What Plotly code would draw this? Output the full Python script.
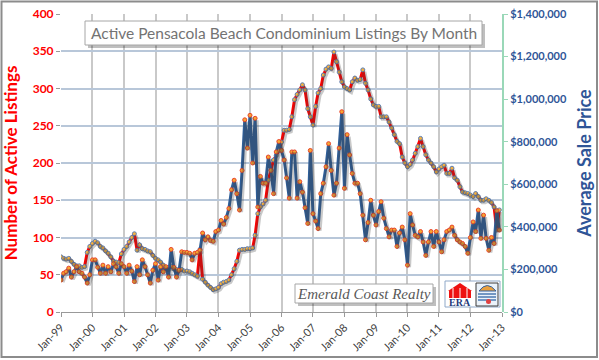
import plotly.graph_objects as go
import pandas as pd

# ---------------- data ----------------
months = pd.date_range("1999-01-01", periods=168, freq="MS")

listings = [
    74, 72, 71, 72, 68, 64, 62, 62, 60, 61, 80, 88,          # 1999
    92, 95, 93, 88, 86, 82, 79, 74, 68, 67, 66, 78,          # 2000
    84, 88, 94, 100, 105, 83, 90, 85, 84, 82, 81, 76,        # 2001
    72, 70, 67, 63, 59, 60, 61, 58, 57, 56, 57, 55,          # 2002
    55, 54, 52, 50, 48, 84, 44, 40, 36, 33, 30, 31,          # 2003
    33, 38, 40, 41, 43, 50, 58, 68, 83, 84, 84, 85,          # 2004
    85, 86, 103, 132, 141, 145, 150, 177, 190, 204, 210, 217,  # 2005
    228, 244, 244, 245, 262, 285, 292, 298, 305, 298, 273, 262,  # 2006
    251, 276, 294, 300, 318, 326, 329, 327, 349, 336, 322, 309,  # 2007
    302, 300, 298, 309, 314, 311, 312, 325, 307, 298, 286, 278,  # 2008
    276, 276, 262, 262, 262, 255, 247, 238, 229, 226, 208, 200,  # 2009
    195, 198, 204, 213, 222, 233, 222, 211, 204, 200, 195, 188,  # 2010
    192, 195, 197, 186, 186, 193, 180, 177, 168, 161, 160, 159,  # 2011
    157, 155, 159, 155, 150, 150, 152, 150, 147, 141, 110, 137,  # 2012
]

avg_price = [
    150000, 182000, 189000, 206000, 164000, 189000, 213000, 189000, 182000, 164000, 136000, 175000,
    245000, 245000, 210000, 182000, 220000, 182000, 213000, 189000, 227000, 213000, 182000, 227000,
    213000, 182000, 220000, 192000, 143000, 213000, 175000, 245000, 213000, 175000, 136000, 196000,
    227000, 150000, 213000, 189000, 213000, 164000, 294000, 210000, 164000, 196000, 283000, 280000,
    280000, 276000, 245000, 276000, 280000, 290000, 371000, 339000, 353000, 336000, 332000, 378000,
    385000, 430000, 413000, 444000, 486000, 574000, 619000, 556000, 479000, 665000, 903000, 770000,
    924000, 700000, 910000, 493000, 637000, 605000, 605000, 728000, 665000, 556000, 752000, 801000,
    759000, 714000, 630000, 535000, 752000, 752000, 535000, 612000, 563000, 490000, 416000, 759000,
    462000, 427000, 392000, 556000, 605000, 682000, 791000, 665000, 549000, 605000, 770000, 941000,
    581000, 833000, 738000, 651000, 605000, 605000, 556000, 455000, 339000, 420000, 525000, 455000,
    409000, 472000, 518000, 441000, 392000, 353000, 385000, 385000, 308000, 371000, 399000, 339000,
    220000, 462000, 409000, 360000, 353000, 378000, 329000, 266000, 329000, 378000, 308000, 378000,
    329000, 283000, 339000, 378000, 385000, 399000, 360000, 339000, 329000, 322000, 308000, 276000,
    350000, 423000, 378000, 479000, 346000, 455000, 346000, 290000, 350000, 322000, 476000, 385000,
]

year_ticks = pd.date_range("1999-01-01", "2013-01-01", freq="YS")
tick_labels = [d.strftime("Jan-%y") for d in year_ticks]
left_ticks = list(range(0, 401, 50))
right_ticks = list(range(0, 1400001, 200000))
right_labels = ["$0"] + ["${:,}".format(v) for v in right_ticks[1:]]

title_text = "Active Pensacola Beach Condominium Listings By Month"
brand_text = "Emerald Coast Realty"

# ---------------- figure ----------------
W, H = 599, 360
L, R, T, B = 61, 97, 14, 48
PW, PH = W - L - R, H - T - B


def fx(px):
    return (px - L) / PW


def fy(py):
    return (H - B - py) / PH


x_start = pd.Timestamp("1999-01-01")
x_end = pd.Timestamp("2013-01-01")
shift = pd.Timedelta(days=18)

fig = go.Figure()

shadow = dict(color="rgba(60,60,60,0.28)", width=4)
fig.add_trace(go.Scatter(x=months, y=listings, mode="lines", xaxis="x2", yaxis="y3",
                         line=shadow, hoverinfo="skip", showlegend=False))
fig.add_trace(go.Scatter(x=months, y=avg_price, mode="lines", xaxis="x2", yaxis="y4",
                         line=shadow, hoverinfo="skip", showlegend=False))

fig.add_trace(go.Scatter(
    x=months, y=listings, mode="lines+markers", name="Active Listings",
    line=dict(color="#FF0000", width=3),
    marker=dict(size=4, color="#F5B041", line=dict(color="#5B7FB5", width=1)),
    showlegend=False))
fig.add_trace(go.Scatter(
    x=months, y=avg_price, mode="lines+markers", name="Average Sale Price", yaxis="y2",
    line=dict(color="#2F5E98", width=3),
    marker=dict(size=4, color="#F7A531", line=dict(color="#E8452C", width=1)),
    showlegend=False))

px_per_unit_l = PH / 400
px_per_unit_r = PH / 1400000
dy = 2

fig.update_layout(
    width=W, height=H,
    margin=dict(l=L, r=R, t=T, b=B),
    paper_bgcolor="white", plot_bgcolor="white",
    font=dict(family="Lato, Open Sans, sans-serif"),
    xaxis=dict(
        type="date", range=[x_start, x_end], automargin=False,
        tickvals=list(year_ticks), ticktext=tick_labels, tickangle=-45,
        tickfont=dict(size=11, color="#404040"),
        showgrid=True, gridcolor="#C9C9C9", gridwidth=2,
        ticks="outside", ticklen=4, tickcolor="#999999",
        showline=False, zeroline=False,
    ),
    xaxis2=dict(type="date", range=[x_start - shift, x_end - shift], overlaying="x",
                visible=False),
    yaxis=dict(
        range=[0, 400], tickvals=left_ticks, automargin=False,
        tickfont=dict(size=12, color="#FF0000", family="Lato", weight="bold"),
        showgrid=True, gridcolor="#B8C7D9", gridwidth=2,
        ticks="outside", ticklen=4, tickcolor="#999999",
        zeroline=True, zerolinecolor="#999999", zerolinewidth=1,
        showline=False,
        title=dict(text="<b>Number of Active Listings</b>",
                   font=dict(size=17, color="#FF0000"), standoff=10),
    ),
    yaxis2=dict(
        range=[0, 1400000], tickvals=right_ticks, ticktext=right_labels,
        overlaying="y", side="right", automargin=False,
        tickfont=dict(size=11, color="#2F5597", weight="bold"),
        showgrid=False, zeroline=False,
        showline=True, linecolor="#9AD8B8", linewidth=2,
        ticks="outside", ticklen=4, tickcolor="#9AD8B8",
        title=dict(text="<b>Average Sale Price</b>",
                   font=dict(size=18, color="#2F5597"), standoff=12),
    ),
    yaxis3=dict(range=[dy / px_per_unit_l, 400 + dy / px_per_unit_l], overlaying="y",
                visible=False),
    yaxis4=dict(range=[dy / px_per_unit_r, 1400000 + dy / px_per_unit_r], overlaying="y",
                visible=False),
)

shapes = []
shapes.append(dict(type="rect", xref="paper", yref="paper",
                   x0=fx(1.5), x1=fx(597), y0=fy(357), y1=fy(1.5),
                   line=dict(color="#8C8C8C", width=2), layer="below"))
shapes.append(dict(type="rect", xref="paper", yref="paper",
                   x0=fx(88), x1=fx(485), y0=fy(48), y1=fy(24),
                   fillcolor="rgba(0,0,0,0.25)", line=dict(width=0)))
shapes.append(dict(type="rect", xref="paper", yref="paper",
                   x0=fx(85), x1=fx(482), y0=fy(45), y1=fy(21),
                   fillcolor="white", line=dict(color="#A6A6A6", width=1)))
shapes.append(dict(type="rect", xref="paper", yref="paper",
                   x0=fx(298), x1=fx(436), y0=fy(306), y1=fy(287),
                   fillcolor="rgba(0,0,0,0.25)", line=dict(width=0)))
shapes.append(dict(type="rect", xref="paper", yref="paper",
                   x0=fx(295), x1=fx(433), y0=fy(303), y1=fy(284),
                   fillcolor="white", line=dict(color="#A6A6A6", width=1)))
shapes.append(dict(type="rect", xref="paper", yref="paper",
                   x0=fx(445), x1=fx(500), y0=fy(307), y1=fy(281),
                   fillcolor="white", line=dict(color="#8FA8C8", width=1)))
shapes.append(dict(type="path", xref="paper", yref="paper",
                   path="M {a},{b} L {c},{d} L {e},{b} Z".format(
                       a=fx(448), b=fy(291), c=fx(460), d=fy(283), e=fx(472)),
                   fillcolor="#EE1111", line=dict(width=0)))
shapes.append(dict(type="rect", xref="paper", yref="paper",
                   x0=fx(449), x1=fx(471), y0=fy(298), y1=fy(291),
                   fillcolor="#EE1111", line=dict(width=0)))
for xx in (453, 460, 467):
    shapes.append(dict(type="line", xref="paper", yref="paper",
                       x0=fx(xx), x1=fx(xx), y0=fy(298), y1=fy(288),
                       line=dict(color="white", width=1)))
shapes.append(dict(type="rect", xref="paper", yref="paper",
                   x0=fx(476), x1=fx(498), y0=fy(306), y1=fy(283),
                   fillcolor="#EAF2FA", line=dict(color="#3A3A3A", width=1)))
shapes.append(dict(type="path", xref="paper", yref="paper",
                   path="M {a},{b} Q {c},{d} {e},{b} Z".format(
                       a=fx(479), b=fy(291), c=fx(487), d=fy(280), e=fx(496)),
                   fillcolor="#E8A040", line=dict(color="#3060A0", width=1)))
for yy in (294, 297, 300):
    shapes.append(dict(type="line", xref="paper", yref="paper",
                       x0=fx(478), x1=fx(496), y0=fy(yy), y1=fy(yy),
                       line=dict(color="#4A78B0", width=1.5)))
shapes.append(dict(type="circle", xref="paper", yref="paper",
                   x0=fx(486), x1=fx(491), y0=fy(304), y1=fy(299),
                   fillcolor="#E04040", line=dict(width=0)))
fig.update_layout(shapes=shapes)

fig.add_annotation(xref="paper", yref="paper", x=fx(283.5), y=fy(33),
                   text=title_text, showarrow=False,
                   font=dict(size=15.5, color="#737373", family="Lato"),
                   xanchor="center", yanchor="middle")
fig.add_annotation(xref="paper", yref="paper", x=fx(364), y=fy(293.5),
                   text="<i>" + brand_text + "</i>", showarrow=False,
                   font=dict(size=15, color="#595959", family="Liberation Serif"),
                   xanchor="center", yanchor="middle")
fig.add_annotation(xref="paper", yref="paper", x=fx(460), y=fy(302.5),
                   text="<b>ERA</b>", showarrow=False,
                   font=dict(size=10, color="#1F3A7A", family="Liberation Serif"),
                   xanchor="center", yanchor="middle")

fig.write_html("out.html")
